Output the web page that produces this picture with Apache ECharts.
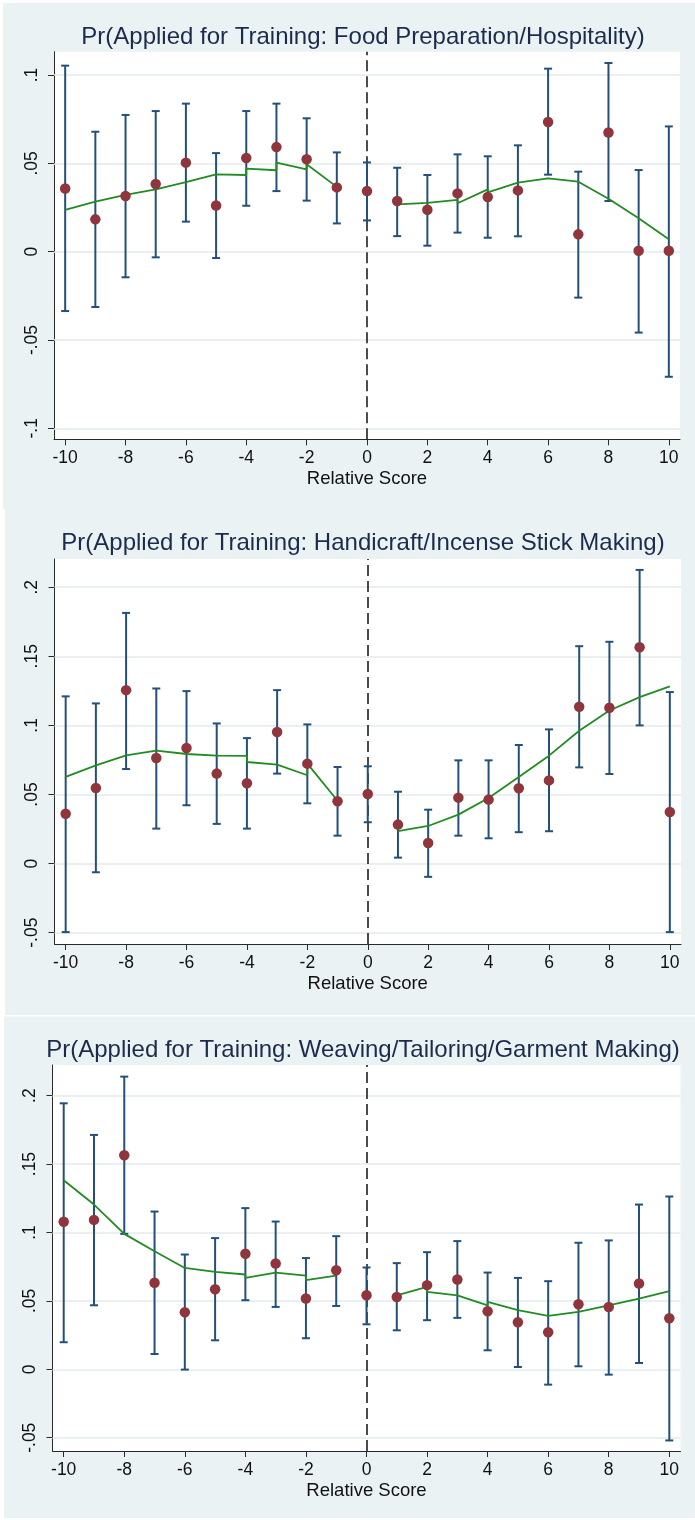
<!DOCTYPE html>
<html>
<head>
<meta charset="utf-8">
<script src="https://cdn.jsdelivr.net/npm/echarts@6/dist/echarts.min.js"></script>
<style>
  html, body { margin: 0; padding: 0; background: #ffffff; }
  #chart { width: 695px; height: 1520px; }
</style>
</head>
<body>
<div id="chart"></div>
<script>
// Relative score bins shared by all three panels
const scores = [-10, -9, -8, -7, -6, -5, -4, -3, -2, -1, 0, 1, 2, 3, 4, 5, 6, 7, 8, 9, 10];
const xTicks = [-10, -8, -6, -4, -2, 0, 2, 4, 6, 8, 10];

// Panel 1: Food Preparation/Hospitality
const foodTitle = 'Pr(Applied for Training: Food Preparation/Hospitality)';
const foodEst = [0.0358, 0.0183, 0.0315, 0.0383, 0.0504, 0.0261, 0.0530, 0.0592, 0.0523, 0.0364, 0.0343, 0.0287, 0.0237, 0.0330, 0.0310, 0.0347, 0.0734, 0.0098, 0.0675, 0.0005, 0.0005];
const foodLo  = [-0.0336, -0.0313, -0.0145, -0.0032, 0.0170, -0.0036, 0.0260, 0.0343, 0.0289, 0.0160, 0.0177, 0.0088, 0.0034, 0.0108, 0.0079, 0.0087, 0.0436, -0.0260, 0.0287, -0.0458, -0.0708];
const foodHi  = [0.1053, 0.0679, 0.0774, 0.0796, 0.0838, 0.0558, 0.0796, 0.0838, 0.0755, 0.0562, 0.0505, 0.0475, 0.0434, 0.0551, 0.0540, 0.0602, 0.1036, 0.0453, 0.1068, 0.0462, 0.0709];
const foodFitLeft  = [[-10, 0.0236], [-9, 0.0283], [-8, 0.0321], [-7, 0.0353], [-6, 0.0394], [-5, 0.0438], [-5, 0.0428], [-4, 0.0434], [-4, 0.0470], [-3, 0.0461], [-3, 0.0504], [-2, 0.0466], [-2, 0.0495], [-1, 0.0367]];
const foodFitRight = [[1, 0.0287], [1, 0.0268], [2, 0.0276], [3, 0.0293], [3, 0.0274], [4, 0.0353], [4, 0.0336], [5, 0.0391], [6, 0.0415], [7, 0.0396], [8, 0.0300], [9, 0.0189], [10, 0.0070]];
const foodYTicks = [-0.1, -0.05, 0, 0.05, 0.1];

// Panel 2: Handicraft/Incense Stick Making
const craftTitle = 'Pr(Applied for Training: Handicraft/Incense Stick Making)';
const craftEst = [0.0361, 0.0547, 0.1255, 0.0764, 0.0836, 0.0651, 0.0581, 0.0952, 0.0723, 0.0451, 0.0504, 0.0282, 0.0149, 0.0477, 0.0463, 0.0545, 0.0602, 0.1135, 0.1128, 0.1566, 0.0373];
const craftLo  = [-0.0496, -0.0063, 0.0684, 0.0253, 0.0422, 0.0287, 0.0253, 0.0651, 0.0436, 0.0202, 0.0299, 0.0043, -0.0096, 0.0202, 0.0183, 0.0227, 0.0234, 0.0696, 0.0648, 0.1000, -0.0496];
const craftHi  = [0.1210, 0.1159, 0.1814, 0.1267, 0.1248, 0.1014, 0.0908, 0.1255, 0.1007, 0.0699, 0.0704, 0.0520, 0.0390, 0.0747, 0.0747, 0.0858, 0.0971, 0.1573, 0.1605, 0.2125, 0.1241];
const craftFitLeft  = [[-10, 0.0627], [-9, 0.0711], [-8, 0.0783], [-7, 0.0817], [-6, 0.0793], [-5, 0.0781], [-4, 0.0780], [-4, 0.0735], [-3, 0.0716], [-2, 0.0639], [-2, 0.0723], [-1, 0.0455]];
const craftFitRight = [[1, 0.0234], [2, 0.0272], [3, 0.0354], [4, 0.0475], [5, 0.0626], [6, 0.0781], [7, 0.0961], [8, 0.1108], [9, 0.1205], [10, 0.1282]];
const craftYTicks = [-0.05, 0, 0.05, 0.1, 0.15, 0.2];

// Panel 3: Weaving/Tailoring/Garment Making
const weaveTitle = 'Pr(Applied for Training: Weaving/Tailoring/Garment Making)';
const weaveEst = [0.1078, 0.1092, 0.1564, 0.0632, 0.0417, 0.0585, 0.0844, 0.0773, 0.0517, 0.0724, 0.0541, 0.0529, 0.0615, 0.0656, 0.0424, 0.0344, 0.0271, 0.0476, 0.0456, 0.0627, 0.0373];
const weaveLo  = [0.0198, 0.0468, 0.0990, 0.0112, -0.0002, 0.0212, 0.0505, 0.0456, 0.0227, 0.0463, 0.0329, 0.0285, 0.0359, 0.0376, 0.0139, 0.0017, -0.0112, 0.0022, -0.0039, 0.0046, -0.0520];
const weaveHi  = [0.1944, 0.1713, 0.2139, 0.1153, 0.0839, 0.0959, 0.1178, 0.1080, 0.0813, 0.0973, 0.0744, 0.0776, 0.0856, 0.0937, 0.0707, 0.0668, 0.0644, 0.0925, 0.0942, 0.1204, 0.1263];
const weaveFitLeft  = [[-10, 0.1382], [-9, 0.1204], [-8, 0.0990], [-7, 0.0863], [-6, 0.0741], [-5, 0.0712], [-4, 0.0693], [-4, 0.0668], [-3, 0.0707], [-2, 0.0685], [-2, 0.0651], [-1, 0.0685]];
const weaveFitRight = [[1, 0.0541], [2, 0.0602], [2, 0.0566], [3, 0.0541], [4, 0.0468], [4, 0.0493], [5, 0.0432], [6, 0.0390], [7, 0.0420], [8, 0.0468], [9, 0.0517], [10, 0.0571]];
const weaveYTicks = [-0.05, 0, 0.05, 0.1, 0.15, 0.2];

// Layout of each panel (plot area in pixels, axis extents)
const panels = [
  { title: foodTitle,  est: foodEst,  lo: foodLo,  hi: foodHi,  fitL: foodFitLeft,  fitR: foodFitRight,  yTicks: foodYTicks,
    yMin: -0.1062, yMax: 0.1132, grid: { left: 54, top: 51.7, width: 626, height: 387.6 }, titleTop: 25.5 },
  { title: craftTitle, est: craftEst, lo: craftLo, hi: craftHi, fitL: craftFitLeft, fitR: craftFitRight, yTicks: craftYTicks,
    yMin: -0.0582, yMax: 0.2204, grid: { left: 54.5, top: 559, width: 626.5, height: 385 }, titleTop: 531.5 },
  { title: weaveTitle, est: weaveEst, lo: weaveLo, hi: weaveHi, fitL: weaveFitLeft, fitR: weaveFitRight, yTicks: weaveYTicks,
    yMin: -0.0597, yMax: 0.2224, grid: { left: 52.5, top: 1065, width: 628, height: 386 }, titleTop: 1038.5 }
];

const FONT = '"Liberation Sans", Arial, Helvetica, sans-serif';
const AXIS_COLOR = '#2a2a2a';
const BAR_COLOR = '#23507a';
const DOT_COLOR = '#90353b';
const FIT_COLOR = '#238b23';
const GRID_LINE = '#e3ebed';

// Stata-style tick labels: drop the leading zero (.05, -.1)
function fmtY(v) {
  if (Math.abs(v) < 1e-9) return '0';
  return String(+v.toFixed(3)).replace('0.', '.');
}

const option = {
  backgroundColor: '#eaf2f3',
  animation: false,
  graphic: [
    { type: 'rect', shape: { x: 0, y: 0, width: 695, height: 3 }, style: { fill: '#ffffff' }, silent: true },
    { type: 'rect', shape: { x: 0, y: 0, width: 3, height: 509 }, style: { fill: '#ffffff' }, silent: true },
    { type: 'rect', shape: { x: 0, y: 509, width: 5, height: 507 }, style: { fill: '#ffffff' }, silent: true },
    { type: 'rect', shape: { x: 0, y: 1015, width: 695, height: 1.5 }, style: { fill: '#ffffff' }, silent: true },
    { type: 'rect', shape: { x: 0, y: 1016, width: 4, height: 504 }, style: { fill: '#ffffff' }, silent: true },
    { type: 'rect', shape: { x: 0, y: 1518, width: 695, height: 2 }, style: { fill: '#ffffff' }, silent: true }
  ],
  title: panels.map(p => ({
    text: p.title,
    left: 363,
    top: p.titleTop,
    padding: 0,
    textAlign: 'center',
    textStyle: { fontFamily: FONT, fontSize: 24, fontWeight: 'normal', color: '#1c2b4b' }
  })),
  grid: panels.map(p => Object.assign({ show: true, backgroundColor: '#ffffff', borderWidth: 0, containLabel: false, outerBoundsMode: 'none' }, p.grid)),
  xAxis: panels.map((p, i) => ({
    type: 'value', gridIndex: i, min: -10.37, max: 10.37,
    axisLine: { show: true, onZero: false, lineStyle: { color: AXIS_COLOR, width: 1 } },
    axisTick: { show: true, length: 6, customValues: xTicks, lineStyle: { color: AXIS_COLOR, width: 1 } },
    axisLabel: { customValues: xTicks, margin: 10, fontSize: 17.5, color: '#111111', fontFamily: FONT },
    splitLine: { show: false },
    name: 'Relative Score', nameLocation: 'middle', nameGap: 30,
    nameTextStyle: { fontSize: 18.5, color: '#111111', fontFamily: FONT }
  })),
  yAxis: panels.map((p, i) => ({
    type: 'value', gridIndex: i, min: p.yMin, max: p.yMax,
    axisLine: { show: true, onZero: false, lineStyle: { color: AXIS_COLOR, width: 1 } },
    axisTick: { show: true, length: 6, customValues: p.yTicks, lineStyle: { color: AXIS_COLOR, width: 1 } },
    axisLabel: { customValues: p.yTicks, rotate: 90, margin: 13, fontSize: 17.5, color: '#111111', fontFamily: FONT, formatter: fmtY },
    splitLine: { show: false }
  })),
  series: []
};

panels.forEach((p, i) => {
  // Horizontal grid lines and the dashed cutoff line at zero
  option.series.push({
    type: 'line', xAxisIndex: i, yAxisIndex: i, data: [], silent: true,
    markLine: {
      z: 1, silent: true, symbol: 'none', animation: false,
      label: { show: false },
      data: p.yTicks.map(v => ({ yAxis: v, lineStyle: { color: GRID_LINE, width: 1.5, type: 'solid' } }))
        .concat([{ xAxis: 0, lineStyle: { color: '#111111', width: 1.5, type: [11, 5] } }])
    }
  });
  // Confidence intervals with end caps
  option.series.push({
    type: 'custom', xAxisIndex: i, yAxisIndex: i, z: 2, silent: true,
    data: scores.map((s, k) => [s, p.lo[k], p.hi[k]]),
    encode: { x: 0, y: [1, 2] },
    renderItem: function (params, api) {
      const x = api.value(0);
      const a = api.coord([x, api.value(1)]);
      const b = api.coord([x, api.value(2)]);
      const cap = 4;
      const style = { stroke: BAR_COLOR, lineWidth: 2 };
      return {
        type: 'group',
        children: [
          { type: 'line', shape: { x1: a[0], y1: a[1], x2: b[0], y2: b[1] }, style: style },
          { type: 'line', shape: { x1: a[0] - cap, y1: a[1], x2: a[0] + cap, y2: a[1] }, style: style },
          { type: 'line', shape: { x1: b[0] - cap, y1: b[1], x2: b[0] + cap, y2: b[1] }, style: style }
        ]
      };
    }
  });
  // Fitted values on each side of the cutoff
  [p.fitL, p.fitR].forEach(seg => {
    option.series.push({
      type: 'line', xAxisIndex: i, yAxisIndex: i, z: 3, silent: true,
      data: seg, showSymbol: false, symbol: 'none',
      lineStyle: { color: FIT_COLOR, width: 1.8 }
    });
  });
  // Bin means
  option.series.push({
    type: 'scatter', xAxisIndex: i, yAxisIndex: i, z: 4, silent: true,
    data: scores.map((s, k) => [s, p.est[k]]),
    symbol: 'circle', symbolSize: 10.5,
    itemStyle: { color: DOT_COLOR, opacity: 1 }
  });
});

const chart = echarts.init(document.getElementById('chart'), null, { renderer: 'canvas' });
chart.setOption(option);
</script>
</body>
</html>
